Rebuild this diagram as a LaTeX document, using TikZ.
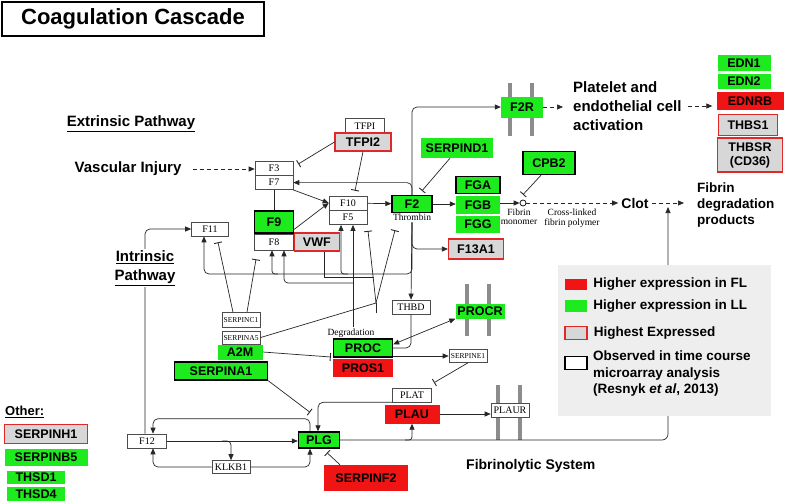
\documentclass[tikz,border=0pt]{standalone}
\usepackage{fontspec}
\setmainfont{Liberation Sans}
\newfontfamily\keggserif{Liberation Serif}
\usetikzlibrary{arrows.meta,positioning}
\definecolor{llgreen}{RGB}{30,235,30}
\definecolor{flred}{RGB}{240,20,20}
\definecolor{higray}{RGB}{215,215,215}
\definecolor{hired}{RGB}{225,40,40}
\definecolor{legbg}{RGB}{238,238,238}
\newcommand\genefont{\fontsize{12.5}{14}\selectfont\bfseries}
\newcommand\keggfont{\keggserif\fontsize{10}{11}\selectfont}
\newcommand\keggsmall{\keggserif\fontsize{9.5}{9.5}\selectfont}
\newcommand\keggtiny{\keggserif\fontsize{7.5}{8}\selectfont}
\begin{document}
\begin{tikzpicture}[x=1pt, y=1pt,
	every node/.style={inner sep=0pt},
	sz/.style 2 args={minimum width=#1pt, minimum height=#2pt},
	kegg/.style={draw=black!70, line width=0.6pt, fill=white, font=\keggfont},
	llbox/.style={fill=llgreen, font=\genefont},
	llframe/.style={llbox, draw=black, line width=1.4pt},
	flbox/.style={fill=flred, font=\genefont},
	hibox/.style={fill=higray, draw=hired, line width=1.1pt, font=\genefont},
	heading/.style={font={\fontsize{15}{19}\selectfont\bfseries}, align=left},
	legtext/.style={font={\fontsize{13.5}{16.5}\selectfont\bfseries}},
	link/.style={line width=0.7pt, black!85},
	act/.style={link, -{Triangle[length=6pt,width=5pt]}},
	both/.style={link, {Triangle[length=6pt,width=5pt]}-{Triangle[length=6pt,width=5pt]}},
	inhib/.style={link, -{Bar[width=8pt,line width=0.9pt]}},
	cascade/.style={act, dash pattern=on 4pt off 3pt},
	memb/.style={line width=4pt, black!45}]
		\path[use as bounding box, fill=white] (0,0) rectangle (786,-503);
		\draw[memb] (510,-83) -- (510,-136);
		\draw[memb] (532,-83) -- (532,-136);
		\draw[memb] (467,-284) -- (467,-336);
		\draw[memb] (489,-284) -- (489,-336);
		\draw[memb] (498,-385) -- (498,-440);
		\draw[memb] (520,-385) -- (520,-440);
		\node[draw, line width=1.2pt, sz={262}{34}, font={\fontsize{22}{26}\selectfont\bfseries}] (title) at (133,-19) {Coagulation Cascade};
		\node[heading] (extr) at (131,-124) {\underline{Extrinsic Pathway}};
		\node[heading, inner sep=3pt] (vinj) at (128,-169) {Vascular Injury};
		\node[kegg, sz={38}{14}] (f3) at (274,-168) {F3};
		\node[kegg, sz={38}{14}, below=0pt of f3] (f7) {F7};
		\node[kegg, sz={39}{15}] (tfpi) at (365,-126) {TFPI};
		\node[hibox, sz={56}{18}] (tfpi2) at (363,-142) {TFPI2};
		\node[kegg, sz={38}{14}] (f10) at (348,-203) {F10};
		\node[kegg, sz={38}{14}, below=0pt of f10] (f5) {F5};
		\node[llframe, sz={39}{22}] (f9) at (274,-222) {F9};
		\node[kegg, sz={39}{16}, below=0pt of f9] (f8) {F8};
		\node[hibox, sz={45}{18}, right=0pt of f8] (vwf) {VWF};
		\node[kegg, sz={37}{14}] (f11) at (210,-229) {F11};
		\node[llframe, sz={40}{17}] (f2) at (412,-204) {F2};
		\node[font=\keggsmall, inner sep=1pt, below=0pt of f2] (thrombin) {Thrombin};
		\node[llbox, sz={72}{20}] (serpind1) at (457,-148) {SERPIND1};
		\node[llframe, sz={44}{17}] (fga) at (478,-185) {FGA};
		\node[llbox, sz={44}{18}, below=2pt of fga] (fgb) {FGB};
		\node[llbox, sz={44}{17}, below=1pt of fgb] (fgg) {FGG};
		\node[hibox, sz={55}{20}] (f13a1) at (476,-249) {F13A1};
		\node[draw, circle, line width=0.7pt, minimum size=6pt] (fmono) at (523,-203) {};
		\node[font=\keggsmall, align=center, below=2pt of fmono, xshift=-4pt] (fmonotxt) {Fibrin\\monomer};
		\node[font=\keggsmall, align=center] (polymer) at (572,-218) {Cross-linked\\fibrin polymer};
		\node[llframe, sz={52}{23}] (cpb2) at (549,-163) {CPB2};
		\node[font={\fontsize{14}{16}\selectfont\bfseries}, inner sep=3pt] (clot) at (635,-203) {Clot};
		\node[font={\fontsize{13.5}{16}\selectfont\bfseries}, align=left, anchor=west] (fdp) at (697,-205) {Fibrin\\degradation\\products};
		\node[llbox, sz={42}{21}] (f2r) at (522,-107) {F2R};
		\node[heading, anchor=west] (platelet) at (573,-106) {Platelet and\\endothelial cell\\activation};
		\node[llbox, sz={53}{15}] (edn1) at (744,-63) {EDN1};
		\node[llbox, sz={53}{15}, below=3pt of edn1] (edn2) {EDN2};
		\node[flbox, sz={67}{18}] (ednrb) at (750,-101) {EDNRB};
		\node[hibox, sz={59}{21}] (thbs1) at (748,-125) {THBS1};
		\node[hibox, sz={65}{34}, align=center] (thbsr) at (750,-155) {THBSR\\(CD36)};
		\node[kegg, sz={38}{14}] (thbd) at (411,-307) {THBD};
		\node[kegg, sz={38}{15}, font=\keggtiny] (serpc1) at (241,-320) {SERPINC1};
		\node[kegg, sz={38}{13}, font=\keggtiny, below=3pt of serpc1] (serpa5) {SERPINA5};
		\node[llbox, sz={45}{15}] (a2m) at (240,-352) {A2M};
		\node[llframe, sz={93}{18}] (serpina1) at (221,-371) {SERPINA1};
		\node[llframe, sz={59}{18}] (proc) at (363,-348) {PROC};
		\node[flbox, sz={60}{18}, below=1pt of proc] (pros1) {PROS1};
		\node[font=\keggsmall, inner sep=1pt, above=0pt of proc, xshift=-12pt] (degr) {Degradation};
		\node[llbox, sz={49}{15}] (procr) at (480,-311) {PROCR};
		\node[kegg, sz={38}{13}, font=\keggtiny] (serpe1) at (468,-356) {SERPINE1};
		\node[kegg, sz={39}{14}] (plat) at (412,-395) {PLAT};
		\node[flbox, sz={55}{19}, below=2pt of plat] (plau) {PLAU};
		\node[kegg, sz={38}{14}] (plaur) at (510,-410) {PLAUR};
		\node[llframe, sz={41}{16}] (plg) at (319,-440) {PLG};
		\node[kegg, sz={39}{14}] (f12) at (147,-441) {F12};
		\node[kegg, sz={38}{13}] (klkb1) at (231,-467) {KLKB1};
		\node[flbox, sz={84}{26}] (serpinf2) at (366,-478) {SERPINF2};
		\node[font={\fontsize{14}{16}\selectfont\bfseries}, anchor=west] (fibrinolytic) at (466,-466) {Fibrinolytic System};
		\node[font={\fontsize{13}{15}\selectfont\bfseries}, anchor=west] (other) at (5,-412) {\underline{Other:}};
		\node[hibox, sz={83}{19}] (serpinh1) at (46,-434) {SERPINH1};
		\node[llbox, sz={83}{17}] (serpinb5) at (46,-457) {SERPINB5};
		\node[llbox, sz={58}{13}] (thsd1) at (36,-477) {THSD1};
		\node[llbox, sz={58}{14}] (thsd4) at (36,-494) {THSD4};
		\coordinate (fb) at (300,-274);
		\coordinate (pc) at (300,-283);
		\coordinate (vjoin) at (374,-277);
		\coordinate (vapex) at (376,-303);
		\coordinate (lysis) at (668,-207);
		\draw[cascade, shorten <=8pt] (vinj.east) -- (vinj.east -| f3.west);
		\draw[inhib] (tfpi2.west) -- ([xshift=5pt,yshift=4pt]f3.east);
		\draw[inhib] (tfpi2.south) -- ([xshift=7pt,yshift=5pt]f10.north);
		\draw[link] (f7) -- (f9);
		\draw[act] (f7.south east) -- (f10.west);
		\draw[act] (f9.-20) -- (f10.west);
		\draw[act] (f10) -- (f2);
		\draw[inhib] ([xshift=-7pt]serpind1.south) -- ([xshift=10pt,yshift=4pt]f2.north);
		\draw[act] (f2.east) -- (f2.east -| fgb.west);
		\draw[act] (fgb.east |- fmono) -- (fmono);
		\draw[inhib] ([xshift=-8pt]cpb2.south) -- ([yshift=5pt]fmono.north);
		\draw[cascade] (fmono) -- (clot);
		\draw[cascade, shorten >=13pt] (clot.east) -- (clot.east -| fdp.west);
		\draw[act, rounded corners=6pt] (plg.east) -| (lysis);
		\draw[act, rounded corners=3pt] (plg.east -| plau.south) ++(-7pt,0) -| (plau.south);
		\draw[act] (plau.east) -- (plau.east -| plaur.west);
		\draw[inhib] (serpe1.south) -- ([xshift=22pt,yshift=5pt]plat.north);
		\draw[act] (proc.east |- serpe1.west) -- (serpe1.west);
		\draw[both] (procr.south west) -- ([yshift=-6pt]proc.north east);
		\draw[act] (thrombin.south) -- (thbd.north);
		\draw[link, rounded corners=5pt] (thbd.south) |- (proc.east);
		\draw[act, rounded corners=5pt] (thrombin.south) |- (f13a1.west);
		\draw[act, rounded corners=5pt] (f2.north) |- (f2r.west);
		\draw[act, rounded corners=5pt] (f2.north) |- (f7.east);
		\draw[act, rounded corners=5pt] (thrombin.south) |- (fb) -| ([xshift=-6pt]f11.south);
		\draw[act, rounded corners=3pt] (fb -| f8.south) ++(4pt,0) -| ([xshift=-2pt]f8.south);
		\draw[act, rounded corners=3pt] (fb -| f5.south) -| ([xshift=-7pt]f5.south);
		\draw[act] (degr.north -| f5.south) ++(5pt,0) -- ([xshift=5pt]f5.south);
		\draw[act, rounded corners=4pt] (pc -| f5.south) ++(5pt,0) -| ([xshift=10pt]f8.south);
		\draw[link] (vwf.south) ++(7pt,0) |- (vjoin);
		\draw[inhib] (vapex) -- ([xshift=20pt,yshift=-6pt]f5.south);
		\draw[inhib] (vapex) -- ([xshift=-17pt,yshift=-17pt]f2.south);
		\draw[link] (serpa5.east) -- (vapex);
		\draw[link] (vapex) -- ++(0,-10);
		\draw[inhib] ([xshift=-8pt]serpc1.north) -- ([xshift=8pt,yshift=-6pt]f11.south);
		\draw[inhib] ([xshift=6pt]serpc1.north) -- ([xshift=-18pt,yshift=-9pt]f8.south);
		\draw[inhib] (a2m.east) -- ([xshift=-2pt,yshift=-9pt]proc.west);
		\draw[act, rounded corners=5pt] (f12.north) ++(-2pt,0) |- (f11.west);
		\draw[act] (f12.east) -- (f12.east -| plg.west);
		\draw[act, rounded corners=4pt] (f12.east -| klkb1.north) ++(-9pt,0) -| (klkb1.north);
		\draw[act, rounded corners=5pt] (klkb1.west) -| ([xshift=6pt]f12.south);
		\draw[act, rounded corners=5pt] (klkb1.east) -| ([xshift=-9pt]plg.south);
		\draw[act, rounded corners=5pt] (plg.north) ++(-9pt,0) |- ([xshift=6pt,yshift=15pt]f12.north) -- ([xshift=6pt]f12.north);
		\draw[act, rounded corners=5pt] (plat.south west) -| ([xshift=-1pt]plg.north);
		\draw[inhib] (serpina1.south east) -- ([xshift=-9pt,yshift=19pt]plg.north);
		\draw[inhib] ([xshift=-26pt]serpinf2.north) -- ([xshift=8pt,yshift=-4pt]plg.south);
		\draw[cascade, shorten >=10pt] (f2r.east) -- (f2r.east -| platelet.west);
		\draw[cascade, shorten <=6pt, shorten >=4pt] (platelet.east) -- (platelet.east -| ednrb.west);
		\node[heading, align=center, fill=white, inner sep=2pt] (intr) at (145,-268) {\underline{Intrinsic}\\\underline{Pathway}};
		\fill[legbg] (558,-265) rectangle (771,-416);
		\node[fill=flred, sz={22}{11}] (keyfl) at (576,-284) {};
		\node[fill=llgreen, sz={22}{12}] (keyll) at (576,-306) {};
		\node[fill=higray, draw=hired, line width=1.1pt, sz={22}{13}] (keyhi) at (576,-333) {};
		\node[fill=white, draw=black, line width=1.1pt, sz={22}{13}] (keyts) at (576,-363) {};
		\node[legtext, right=6pt of keyfl] (keyfltxt) {Higher expression in FL};
		\node[legtext, right=6pt of keyll] (keylltxt) {Higher expression in LL};
		\node[legtext, right=6pt of keyhi] (keyhitxt) {Highest Expressed};
		\node[legtext, align=left, anchor=west] (keytstxt) at (593,-374) {Observed in time course\\microarray analysis\\(Resnyk \textit{et al}, 2013)};
\end{tikzpicture}
\end{document}
